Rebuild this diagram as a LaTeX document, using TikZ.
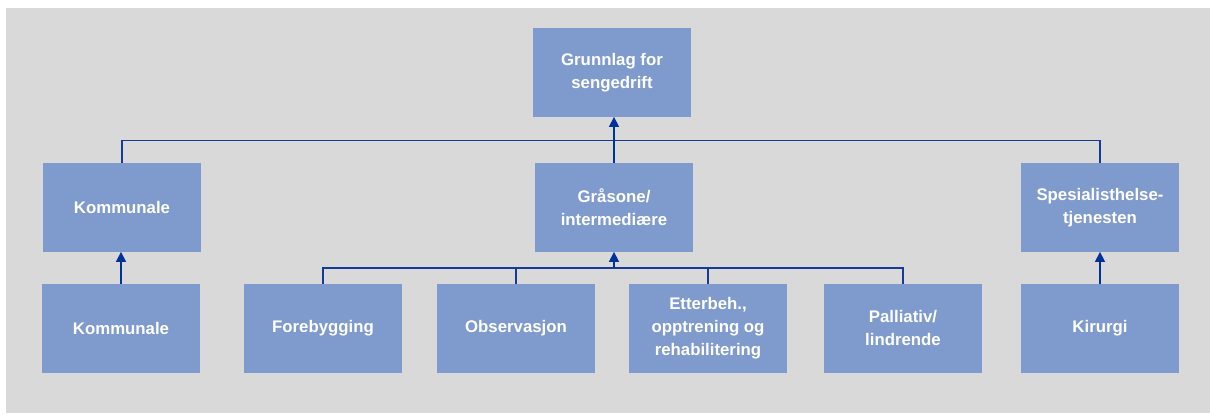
\documentclass[tikz,border=0pt]{standalone}
\usepackage{fontspec}
\setmainfont{Liberation Sans}
\usetikzlibrary{arrows.meta}
\definecolor{bgray}{RGB}{217,217,217}
\definecolor{boxblue}{RGB}{127,154,204}
\definecolor{lineblue}{RGB}{20,60,150}
\definecolor{arrowblue}{RGB}{0,51,153}
\tikzset{
  orgbox/.style={fill=boxblue, draw=none, minimum width=118.5pt, minimum height=66.5pt,
    inner sep=0pt, text=white, align=center,
    font=\fontsize{12.6}{17.4}\selectfont\bfseries},
  link/.style={draw=lineblue, line width=1.1pt},
  uparrow/.style={draw=arrowblue, line width=1.1pt, -{Triangle[length=7.5pt,width=7.5pt]}}
}
\begin{document}
\begin{tikzpicture}[x=0.75pt,y=-0.75pt]
\useasboundingbox (0,0) rectangle (1210,414);
\fill[white] (0,0) rectangle (1210,414);
\fill[bgray] (6,8) rectangle (1210,413);

\node[orgbox] (top) at (612,72.3) {Grunnlag for\\sengedrift};
\node[orgbox] (kom1) at (122,207.3) {Kommunale};
\node[orgbox] (gra) at (614,207.3) {Gråsone/\\intermediære};
\node[orgbox] (spes) at (1100,207.3) {Spesialisthelse-\\tjenesten};
\node[orgbox] (kom2) at (121,328.3) {Kommunale};
\node[orgbox] (fore) at (323,328.3) {Forebygging};
\node[orgbox] (obs) at (516,328.3) {Observasjon};
\node[orgbox] (ett) at (708,328.3) {Etterbeh.,\\opptrening og\\rehabilitering};
\node[orgbox] (pal) at (903,328.3) {Palliativ/\\lindrende};
\node[orgbox] (kir) at (1100,328.3) {Kirurgi};

% upper bar
\draw[link] (kom1.north) -- ++(0,-22.3) -| (spes.north);
\draw[uparrow] (gra.north) -- (gra.north |- top.south);

% lower bar
\draw[link] (fore.north) -- ++(0,-15.7) -| (pal.north);
\draw[link] (obs.north) -- ++(0,-15.7);
\draw[link] (ett.north) -- ++(0,-15.7);
\coordinate (lowbar) at (614,268.3);
\draw[uparrow] (lowbar) -- (gra.south);

% side arrows
\draw[uparrow] (kom2.north) -- (kom2.north |- kom1.south);
\draw[uparrow] (kir.north) -- (spes.south);
\end{tikzpicture}
\end{document}
